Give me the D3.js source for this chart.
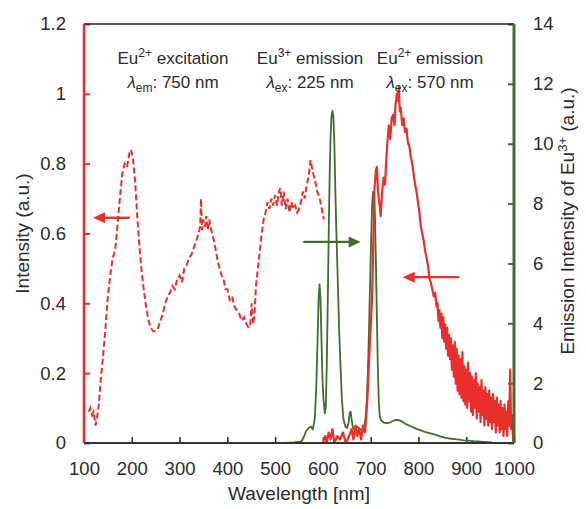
<!DOCTYPE html>
<html>
<head>
<meta charset="utf-8">
<script src="https://cdn.jsdelivr.net/npm/d3@7"></script>
<style>
  body { margin: 0; background: #fff; }
  text { font-family: "Liberation Sans", Arial, sans-serif; fill: #2b2b2b; }
</style>
</head>
<body>
<div id="graph"></div>
<script>
// Eu2+ excitation (left axis), [wavelength, intensity]
const excitation = [
  [110,0.09],[113,0.10],[117,0.08],[120,0.09],[124,0.05],[127,0.07],[131,0.11],[135,0.18],[140,0.25],
  [145,0.33],[150,0.42],[155,0.48],[160,0.53],[165,0.55],[170,0.62],[175,0.70],[180,0.77],[185,0.80],
  [190,0.79],[195,0.83],[198,0.84],[202,0.82],[207,0.75],[211,0.66],[215,0.58],[220,0.50],[225,0.44],
  [230,0.39],[235,0.35],[240,0.33],[245,0.32],[250,0.32],[255,0.33],[260,0.35],[265,0.37],[270,0.40],
  [275,0.42],[280,0.43],[285,0.45],[290,0.44],[295,0.47],[300,0.48],[305,0.46],[310,0.50],[315,0.51],
  [320,0.53],[325,0.54],[330,0.56],[335,0.58],[340,0.60],[343,0.62],[345,0.70],[347,0.61],[350,0.64],
  [353,0.62],[356,0.65],[359,0.61],[362,0.64],[365,0.62],[368,0.60],[372,0.58],[376,0.55],[380,0.52],
  [384,0.50],[388,0.48],[392,0.47],[396,0.44],[400,0.44],[405,0.41],[410,0.42],[415,0.39],[420,0.38],
  [425,0.37],[430,0.35],[435,0.36],[440,0.34],[445,0.33],[448,0.34],[451,0.40],[454,0.34],[457,0.37],
  [460,0.45],[464,0.50],[468,0.55],[472,0.60],[476,0.64],[480,0.66],[484,0.69],[488,0.67],[492,0.70],
  [496,0.68],[500,0.71],[504,0.68],[508,0.72],[511,0.73],[514,0.68],[518,0.72],[522,0.67],[526,0.70],
  [530,0.66],[534,0.69],[538,0.67],[542,0.68],[546,0.66],[550,0.67],[554,0.69],[558,0.72],[562,0.70],
  [566,0.74],[570,0.76],[574,0.81],[577,0.79],[580,0.77],[584,0.75],[588,0.72],[591,0.71],[595,0.69],
  [599,0.66],[602,0.64]
];

// Eu2+ emission (left axis)
const emission2 = [
  [600,0],[605,0.02],[608,0],[612,0.03],[616,0.01],[620,0.04],[624,0],[630,0.02],[636,0.01],[642,0.03],
  [648,0],[655,0.02],[660,0.04],[664,0.01],[668,0.05],[672,0.02],[676,0.04],[680,0.01],[684,0.05],
  [688,0.03],[691,0.08],[694,0.15],[697,0.25],[700,0.33],[703,0.42],[706,0.60],[708,0.73],[711,0.78],
  [713,0.79],[715,0.73],[717,0.70],[719,0.68],[721,0.65],[724,0.72],[727,0.76],[730,0.74],[733,0.82],
  [736,0.88],[738,0.91],[741,0.87],[744,0.93],[747,0.94],[750,0.91],[752,0.97],[755,1.00],[757,0.98],
  [759,1.02],[761,0.95],[763,0.96],[766,0.91],[769,0.93],[772,0.89],[775,0.90],[778,0.86],[781,0.85],
  [784,0.82],[787,0.80],[790,0.77],[793,0.74],[796,0.72],[799,0.69],[802,0.66],[805,0.62],[808,0.60],
  [811,0.58],[814,0.55],[817,0.53],[820,0.51],[823,0.47],[826,0.46],[829,0.44],[832,0.42],[835,0.43],
  [838,0.39],[840,0.40],[842,0.35],[844,0.38],[846,0.33],[848,0.37],[850,0.30],[852,0.36],[854,0.29],
  [856,0.34],[858,0.27],[860,0.33],[862,0.25],[864,0.31],[866,0.24],[868,0.30],[870,0.21],[872,0.28],
  [874,0.19],[876,0.29],[878,0.17],[880,0.27],[882,0.15],[884,0.25],[886,0.14],[888,0.24],[890,0.13],
  [892,0.26],[894,0.12],[896,0.22],[898,0.11],[900,0.21],[902,0.10],[904,0.23],[906,0.12],[908,0.20],
  [910,0.09],[912,0.19],[914,0.08],[916,0.18],[918,0.10],[920,0.20],[922,0.07],[924,0.17],[926,0.09],
  [928,0.16],[930,0.06],[932,0.18],[934,0.08],[936,0.15],[938,0.05],[940,0.16],[942,0.07],[944,0.14],
  [946,0.05],[948,0.15],[950,0.06],[952,0.13],[954,0.04],[956,0.14],[958,0.06],[960,0.12],[962,0.03],
  [964,0.13],[966,0.05],[968,0.11],[970,0.03],[972,0.12],[974,0.04],[976,0.10],[978,0.02],[980,0.11],
  [982,0.04],[984,0.09],[986,0.02],[988,0.12],[990,0.05],[992,0.21],[994,0.04],[996,0.08],[998,0.01],
  [1000,0]
];

// Eu3+ emission (right axis)
const emission3 = [
  [520,0],[540,0.02],[555,0.05],[560,0.2],[565,0.4],[570,0.5],[575,0.55],[579,0.45],[583,0.8],[586,1.8],
  [589,3.5],[591,4.8],[593,5.3],[595,4.8],[597,3.5],[599,2.2],[601,1.5],[604,1.0],[606,1.2],[608,2.5],
  [610,4.5],[612,6.8],[614,8.8],[616,10.2],[618,10.9],[620,11.1],[622,10.9],[624,10.0],[626,8.5],
  [628,7.2],[631,5.5],[634,3.8],[637,2.5],[640,1.4],[643,0.8],[647,0.55],[651,0.5],[654,0.7],[656,1.0],
  [658,1.05],[660,0.8],[663,0.5],[667,0.45],[671,0.55],[675,0.5],[679,0.45],[683,0.4],[686,0.5],
  [689,0.8],[692,1.4],[695,2.8],[698,4.8],[701,6.8],[703,7.9],[705,8.4],[707,8.3],[709,7.6],[711,6.0],
  [713,4.2],[715,2.5],[717,1.4],[719,0.9],[722,0.75],[728,0.68],[735,0.66],[742,0.70],[750,0.76],
  [757,0.77],[765,0.72],[775,0.62],[785,0.55],[795,0.48],[805,0.42],[815,0.36],[825,0.32],[835,0.28],
  [845,0.22],[855,0.18],[865,0.15],[875,0.13],[885,0.11],[895,0.09],[905,0.08],[915,0.06],[925,0.05],
  [935,0.04],[945,0.03],[955,0.02]
];

// tick values
const xTicks = [100, 200, 300, 400, 500, 600, 700, 800, 900, 1000];
const leftTicks = [0, 0.2, 0.4, 0.6, 0.8, 1, 1.2];
const rightTicks = [0, 2, 4, 6, 8, 10, 12, 14];

const red = "#ea2e2c";
const green = "#426b2d";

const W = 586, H = 509;
const margin = { top: 24, right: 72, bottom: 66, left: 84 };
const w = W - margin.left - margin.right;
const h = H - margin.top - margin.bottom;

const svg = d3.select("#graph").append("svg")
  .attr("width", W).attr("height", H);
const g = svg.append("g").attr("transform", `translate(${margin.left},${margin.top})`);

const x = d3.scaleLinear().domain([100, 1000]).range([0, w]);
const yL = d3.scaleLinear().domain([0, 1.2]).range([h, 0]);
const yR = d3.scaleLinear().domain([0, 14]).range([h, 0]);

// axes (ticks pointing inward)
const xAxis = g.append("g").attr("transform", `translate(0,${h})`)
  .call(d3.axisBottom(x).tickValues(xTicks).tickSize(-6).tickPadding(19).tickFormat(d3.format("d")));
const lAxis = g.append("g")
  .call(d3.axisLeft(yL).tickValues(leftTicks).tickSize(-6).tickPadding(18).tickFormat(d3.format("")));
const rAxis = g.append("g").attr("transform", `translate(${w},0)`)
  .call(d3.axisRight(yR).tickValues(rightTicks).tickSize(-6).tickPadding(19));

[xAxis, lAxis, rAxis].forEach(a => {
  a.select(".domain").remove();
  a.selectAll("text").style("font-size", "18.5px").attr("fill", "#2b2b2b")
    .style("font-family", "Liberation Sans, Arial, sans-serif");
});
xAxis.selectAll("line").attr("stroke", "#333").attr("stroke-width", 1.6);
lAxis.selectAll("line").attr("stroke", red).attr("stroke-width", 2);
rAxis.selectAll("line").attr("stroke", green).attr("stroke-width", 2);

// curves
const lineL = d3.line().x(d => x(d[0])).y(d => yL(d[1]));
const lineR = d3.line().x(d => x(d[0])).y(d => yR(d[1]));

g.append("path").datum(emission3)
  .attr("fill", "none").attr("stroke", green).attr("stroke-width", 1.8)
  .attr("stroke-linejoin", "round").attr("d", lineR);

g.append("path").datum(excitation)
  .attr("fill", "none").attr("stroke", red).attr("stroke-width", 2)
  .attr("stroke-dasharray", "6,3").attr("d", lineL);

g.append("path").datum(emission2)
  .attr("fill", "none").attr("stroke", red).attr("stroke-width", 2.2)
  .attr("stroke-linejoin", "round").attr("d", lineL);

// frame
g.append("line").attr("x1", 0).attr("x2", w).attr("y1", 0).attr("y2", 0)
  .attr("stroke", "#222").attr("stroke-width", 1.5);
g.append("line").attr("x1", 0).attr("x2", w).attr("y1", h).attr("y2", h)
  .attr("stroke", "#333").attr("stroke-width", 1.8);
g.append("line").attr("x1", 0).attr("x2", 0).attr("y1", 0).attr("y2", h)
  .attr("stroke", red).attr("stroke-width", 2.6);
g.append("line").attr("x1", w).attr("x2", w).attr("y1", 0).attr("y2", h)
  .attr("stroke", green).attr("stroke-width", 3);

// arrows
function arrow(x1, x2, y, color) {
  const dir = Math.sign(x2 - x1);
  g.append("line").attr("x1", x1).attr("x2", x2 - dir * 8).attr("y1", y).attr("y2", y)
    .attr("stroke", color).attr("stroke-width", 2.4);
  g.append("path")
    .attr("d", `M${x2},${y} L${x2 - dir * 12},${y - 5.5} L${x2 - dir * 12},${y + 5.5} Z`)
    .attr("fill", color);
}
arrow(x(196), x(119), yL(0.645), red);
arrow(x(559), x(679), yR(6.72), green);
arrow(x(885), x(767), yL(0.475), red);

// axis titles
svg.append("text").attr("x", margin.left + w / 2).attr("y", 500)
  .attr("text-anchor", "middle").style("font-size", "19px").text("Wavelength [nm]");
svg.append("text").attr("transform", `translate(29,${margin.top + h / 2}) rotate(-90)`)
  .attr("text-anchor", "middle").style("font-size", "19px").text("Intensity (a.u.)");
const rt = svg.append("text").attr("transform", `translate(574,221) rotate(-90)`)
  .attr("text-anchor", "middle").style("font-size", "19px");
rt.append("tspan").text("Emission Intensity of Eu");
rt.append("tspan").attr("dy", -7).style("font-size", "13px").text("3+");
rt.append("tspan").attr("dy", 7).text(" (a.u.)");

// annotations
function label(cx, ion, sup, rest, sub, value) {
  const t1 = svg.append("text").attr("x", cx).attr("y", 64)
    .attr("text-anchor", "middle").style("font-size", "17px");
  t1.append("tspan").text(ion);
  t1.append("tspan").attr("dy", -7).style("font-size", "12px").text(sup);
  t1.append("tspan").attr("dy", 7).text(rest);
  const t2 = svg.append("text").attr("x", cx).attr("y", 88)
    .attr("text-anchor", "middle").style("font-size", "17px");
  t2.append("tspan").style("font-style", "italic").text("λ");
  t2.append("tspan").attr("dy", 4).style("font-size", "12px").text(sub);
  t2.append("tspan").attr("dy", -4).text(": " + value);
}
label(173, "Eu", "2+", " excitation", "em", "750 nm");
label(310, "Eu", "3+", " emission", "ex", "225 nm");
label(430, "Eu", "2+", " emission", "ex", "570 nm");
</script>
</body>
</html>
